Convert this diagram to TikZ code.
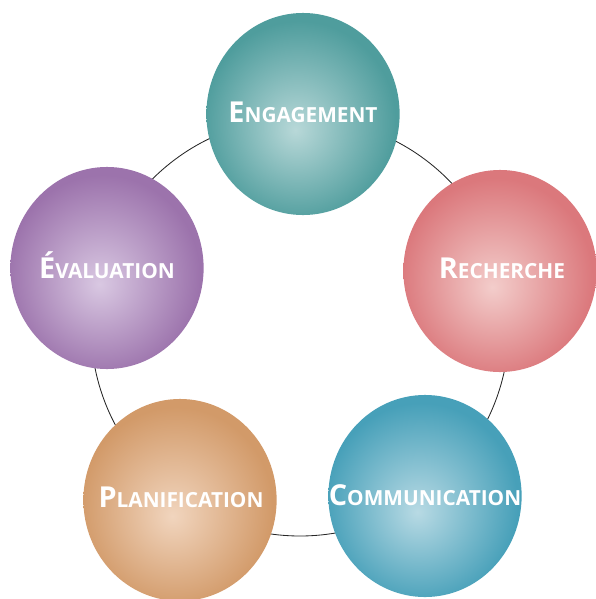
\documentclass[tikz,border=0pt]{standalone}
\usepackage{fontspec}
\usepackage{tikz}
\usetikzlibrary{shapes.geometric}
\newfontfamily\stagefont{Open Sans}
\definecolor{engin}{HTML}{B8D8D8}
\definecolor{engout}{HTML}{4F9D9D}
\definecolor{recin}{HTML}{F3CDCB}
\definecolor{recout}{HTML}{DB787C}
\definecolor{comin}{HTML}{B8DAE4}
\definecolor{comout}{HTML}{47A0B9}
\definecolor{planin}{HTML}{F1D5BE}
\definecolor{planout}{HTML}{D29A69}
\definecolor{evalin}{HTML}{D9C8E2}
\definecolor{evalout}{HTML}{9C73AC}
\colorlet{orbin}{white}
\colorlet{orbout}{gray}
\pgfdeclareradialshading[orbin,orbout]{orb}{\pgfpoint{-2bp}{-4bp}}{color(0bp)=(orbin); color(25bp)=(orbout); color(50bp)=(orbout)}
\newcommand{\petcap}[2]{{\fontsize{20.5}{20.5}\selectfont #1}{\fontsize{14.8}{14.8}\selectfont #2}}
\tikzstyle{ring} = [line width=0.6pt,black!85]

\begin{document}
\begin{tikzpicture}
        [
            x=0.025cm, y=-0.025cm,
            stage/.style 2 args={ellipse, inner sep=0pt, minimum width=4.83cm, minimum height=5.05cm,
                /utils/exec={\colorlet{orbin}{#1}\colorlet{orbout}{#2}}, shading=orb},
            word/.style={text=white, font=\stagefont\bfseries, inner sep=0pt},
        ]
    \useasboundingbox (0,0) rectangle (595,599);

    \coordinate (hub) at (300,327);
    \draw[ring] (hub) circle [radius=209];

    \node [stage={engin}{engout}] (eng) at (303,114){};
    \node [stage={recin}{recout}] (rec) at (500,271){};
    \node [stage={comin}{comout}] (com) at (425,496){};
    \node [stage={planin}{planout}] (plan) at (180,500){};
    \node [stage={evalin}{evalout}] (eval) at (107,268){};

    \node [word] (engtext) at ([yshift=0.03cm]eng) {\petcap{E}{NGAGEMENT}};
    \node [word] (rectext) at ([shift={(2,-3)}]rec) {\petcap{R}{ECHERCHE}};
    \node [word] (comtext) at ([yshift=0.02cm]com) {\petcap{C}{OMMUNICATION}};
    \node [word] (plantext) at ([shift={(1,-3)}]plan) {\petcap{P}{LANIFICATION}};
    \node [word] (evaltext) at ([shift={(0,-3)}]eval) {\petcap{É}{VALUATION}};
    \end{tikzpicture}
\end{document}
